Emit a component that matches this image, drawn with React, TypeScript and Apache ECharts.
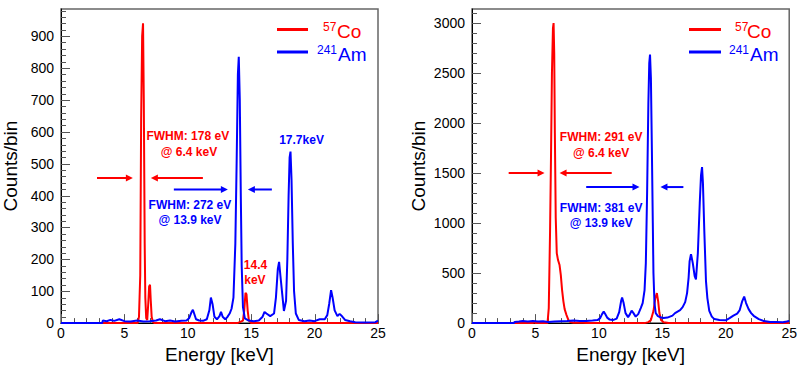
import React, { useEffect, useRef } from 'react';
import * as echarts from 'echarts';

const RED = '#ff0000';
const BLUE = '#0000ff';
const FONT = '"Liberation Sans", Arial, Helvetica, sans-serif';

// axis settings
const X_MIN = 0;
const X_MAX = 25;
const X_INTERVAL = 5;
const X_MINOR_SPLIT = 5;
const LEFT_Y_MAX = 985;
const LEFT_Y_INTERVAL = 100;
const RIGHT_Y_MAX = 3140;
const RIGHT_Y_INTERVAL = 500;
const Y_MINOR_SPLIT = 5;

const X_NAME = 'Energy [keV]';
const Y_NAME = 'Counts/bin';

// ---------- left panel spectra: [energy keV, counts] ----------
const leftCo57: number[][] = [
  [0, 0], [6.05, 0], [6.15, 20], [6.25, 150], [6.32, 640], [6.4, 900], [6.47, 940], [6.53, 700],
  [6.6, 250], [6.65, 80], [6.72, 15], [6.8, 10], [6.88, 60], [6.95, 115], [7.02, 120], [7.08, 70],
  [7.15, 20], [7.25, 3], [7.4, 0], [13.9, 0], [14.1, 3], [14.35, 8], [14.45, 40], [14.55, 95],
  [14.63, 90], [14.72, 40], [14.82, 8], [15.0, 0], [25, 0],
];

const leftAm241: number[][] = [
  [0, 0], [3.25, 0], [3.3, 8], [3.6, 6], [3.9, 10], [4.2, 7], [4.6, 12], [5.0, 6], [5.5, 5],
  [6.0, 8], [6.5, 5], [7.0, 6], [7.5, 8], [7.8, 12], [8.2, 6], [8.6, 8], [9.0, 5], [9.5, 7],
  [9.9, 8], [10.1, 15], [10.3, 35], [10.4, 42], [10.5, 30], [10.65, 12], [10.9, 8], [11.2, 7],
  [11.5, 12], [11.7, 40], [11.82, 80], [11.95, 60], [12.1, 20], [12.3, 12], [12.5, 22],
  [12.62, 35], [12.75, 20], [12.95, 12], [13.1, 18], [13.3, 30], [13.45, 45], [13.6, 80],
  [13.75, 250], [13.85, 500], [13.95, 780], [14.02, 835], [14.1, 700], [14.18, 400],
  [14.25, 180], [14.35, 50], [14.5, 15], [14.8, 8], [15.2, 6], [15.6, 8], [15.9, 20],
  [16.05, 35], [16.2, 30], [16.5, 22], [16.8, 30], [16.95, 80], [17.1, 170], [17.2, 192],
  [17.3, 150], [17.45, 90], [17.58, 38], [17.75, 70], [17.85, 200], [17.95, 400], [18.03, 520],
  [18.1, 538], [18.18, 450], [18.28, 250], [18.38, 100], [18.52, 30], [18.75, 10], [19.2, 6],
  [19.6, 8], [20.0, 6], [20.4, 12], [20.8, 12], [21.0, 25], [21.15, 60], [21.3, 103],
  [21.42, 80], [21.58, 40], [21.8, 22], [21.97, 29], [22.15, 22], [22.4, 10], [22.8, 6],
  [23.2, 3], [24, 2], [24.8, 3], [25, 8],
];

// ---------- right panel spectra ----------
const rightCo57: number[][] = [
  [0, 0], [4.8, 0], [4.9, 15], [5.0, 0], [5.95, 0], [6.05, 150], [6.15, 900], [6.22, 1600],
  [6.3, 2500], [6.38, 2950], [6.43, 3000], [6.48, 2700], [6.53, 1900], [6.6, 1050], [6.68, 700],
  [6.78, 630], [6.9, 580], [7.0, 480], [7.1, 330], [7.2, 220], [7.3, 140], [7.45, 80],
  [7.6, 30], [7.75, 10], [8.0, 3], [8.5, 5], [9.0, 2], [9.5, 0], [13.6, 0], [13.9, 10],
  [14.1, 30], [14.3, 120], [14.45, 250], [14.57, 300], [14.67, 220], [14.77, 100], [14.9, 30],
  [15.1, 8], [15.5, 0], [25, 0],
];

const rightAm241: number[][] = [
  [0, 0], [3.3, 0], [3.35, 12], [3.7, 15], [4.0, 20], [4.4, 15], [4.8, 20], [5.2, 15],
  [5.6, 18], [6.0, 12], [6.5, 15], [7.0, 18], [7.5, 20], [8.0, 25], [8.5, 22], [9.0, 20],
  [9.5, 25], [9.9, 30], [10.1, 50], [10.25, 90], [10.38, 115], [10.5, 90], [10.65, 55],
  [10.85, 35], [11.1, 30], [11.4, 45], [11.6, 110], [11.75, 220], [11.83, 255], [11.95, 200],
  [12.1, 100], [12.3, 60], [12.45, 90], [12.58, 125], [12.7, 105], [12.9, 65], [13.1, 90],
  [13.3, 150], [13.45, 200], [13.6, 330], [13.7, 600], [13.8, 1300], [13.9, 2200],
  [13.97, 2600], [14.03, 2685], [14.1, 2450], [14.18, 1700], [14.25, 1000], [14.3, 500],
  [14.38, 200], [14.48, 100], [14.65, 70], [14.9, 55], [15.1, 50], [15.4, 55], [15.8, 75],
  [16.0, 100], [16.2, 115], [16.4, 130], [16.6, 160], [16.8, 210], [16.95, 300], [17.07, 453],
  [17.15, 620], [17.26, 690], [17.4, 600], [17.55, 470], [17.65, 437], [17.8, 700],
  [17.95, 1200], [18.05, 1480], [18.13, 1560], [18.2, 1400], [18.31, 915], [18.44, 420],
  [18.55, 250], [18.7, 123], [18.9, 65], [19.1, 40], [19.5, 30], [20.0, 28], [20.3, 50],
  [20.6, 75], [20.9, 95], [21.1, 130], [21.3, 220], [21.45, 265], [21.6, 200], [21.8, 140],
  [22.0, 100], [22.2, 73], [22.6, 40], [23.0, 20], [23.5, 12], [24.0, 10], [24.5, 8],
  [24.8, 15], [25, 20],
];

// ---------- annotations (data coordinates) ----------
type Arrow = { grid: number; from: number[]; to: number[]; color: string };
const arrows: Arrow[] = [
  { grid: 0, from: [2.84, 455], to: [5.67, 455], color: RED },
  { grid: 0, from: [11.19, 455], to: [7.09, 455], color: RED },
  { grid: 0, from: [8.9, 419], to: [13.16, 419], color: BLUE },
  { grid: 0, from: [16.63, 419], to: [14.74, 419], color: BLUE },
  { grid: 1, from: [2.89, 1500], to: [5.72, 1500], color: RED },
  { grid: 1, from: [11.01, 1500], to: [6.9, 1500], color: RED },
  { grid: 1, from: [9.0, 1360], to: [13.2, 1360], color: BLUE },
  { grid: 1, from: [16.66, 1360], to: [14.85, 1360], color: BLUE },
];

type Note = { grid: number; at: number[]; text: string; color: string };
const notes: Note[] = [
  { grid: 0, at: [10.0, 586], text: 'FWHM: 178 eV', color: RED },
  { grid: 0, at: [10.09, 536], text: '@ 6.4 keV', color: RED },
  { grid: 0, at: [10.17, 370], text: 'FWHM: 272 eV', color: BLUE },
  { grid: 0, at: [10.17, 323], text: '@ 13.9 keV', color: BLUE },
  { grid: 0, at: [18.97, 574], text: '17.7keV', color: BLUE },
  { grid: 0, at: [15.34, 181], text: '14.4', color: RED },
  { grid: 0, at: [15.29, 135], text: 'keV', color: RED },
  { grid: 1, at: [10.18, 1862], text: 'FWHM: 291 eV', color: RED },
  { grid: 1, at: [10.18, 1700], text: '@ 6.4 keV', color: RED },
  { grid: 1, at: [10.18, 1155], text: 'FWHM: 381 eV', color: BLUE },
  { grid: 1, at: [10.18, 999], text: '@ 13.9 keV', color: BLUE },
];

// legend entries
const legendItems = [
  { sup: '57', name: 'Co', color: RED },
  { sup: '241', name: 'Am', color: BLUE },
];

const GRIDS = [
  { left: 61, top: 9, width: 317, height: 317 },
  { left: 472, top: 9, width: 318, height: 317 },
];
const Y_SETTINGS = [
  { max: LEFT_Y_MAX, interval: LEFT_Y_INTERVAL, nameGap: 41 },
  { max: RIGHT_Y_MAX, interval: RIGHT_Y_INTERVAL, nameGap: 44 },
];

const TICK_COLOR = '#555';

function makeXAxis(gridIndex: number) {
  return {
    type: 'value',
    gridIndex,
    min: X_MIN,
    max: X_MAX,
    interval: X_INTERVAL,
    name: X_NAME,
    nameLocation: 'middle',
    nameGap: 18,
    nameTextStyle: { fontSize: 19, color: '#000', fontFamily: FONT },
    axisLine: { show: true, lineStyle: { color: '#000', width: 1 } },
    axisTick: { show: false },
    minorTick: { show: false },
    splitLine: { show: false },
    axisLabel: { fontSize: 14, color: '#000', fontFamily: FONT, margin: 3, formatter: (v: number) => String(v) },
  };
}

function makeYAxis(gridIndex: number) {
  const s = Y_SETTINGS[gridIndex];
  return {
    type: 'value',
    gridIndex,
    min: 0,
    max: s.max,
    interval: s.interval,
    name: Y_NAME,
    nameLocation: 'middle',
    nameGap: s.nameGap,
    nameTextStyle: { fontSize: 19, color: '#000', fontFamily: FONT },
    axisLine: { show: true, lineStyle: { color: '#000', width: 1 } },
    axisTick: { show: false },
    minorTick: { show: false },
    splitLine: { show: false },
    axisLabel: {
      fontSize: 14,
      color: '#000',
      fontFamily: FONT,
      margin: 7,
      showMaxLabel: false,
      formatter: (v: number) => String(v),
    },
  };
}

function series(data: number[][], color: string, idx: number) {
  return {
    type: 'line',
    xAxisIndex: idx,
    yAxisIndex: idx,
    data,
    showSymbol: false,
    symbol: 'none',
    lineStyle: { color, width: 2 },
    itemStyle: { color },
    clip: true,
  };
}

export default function App() {
  const ref = useRef<HTMLDivElement>(null);
  useEffect(() => {
    if (!ref.current) return;
    const chart = echarts.init(ref.current, null, { renderer: 'svg' });
    chart.setOption({
      animation: false,
      backgroundColor: '#fff',
      grid: GRIDS.map((g) => ({ ...g, show: true, borderColor: '#666', borderWidth: 1.5 })),
      xAxis: [makeXAxis(0), makeXAxis(1)],
      yAxis: [makeYAxis(0), makeYAxis(1)],
      series: [
        series(leftCo57, RED, 0),
        series(leftAm241, BLUE, 0),
        series(rightCo57, RED, 1),
        series(rightAm241, BLUE, 1),
      ],
    });

    const elements: any[] = [];
    const px = (g: number, p: number[]) => chart.convertToPixel({ gridIndex: g } as any, p) as number[];

    // inward ROOT-style ticks, placed through the axes' own scales
    [0, 1].forEach((g) => {
      const xStep = X_INTERVAL / X_MINOR_SPLIT;
      for (let i = 0; X_MIN + i * xStep <= X_MAX + 1e-9; i++) {
        const v = X_MIN + i * xStep;
        const p = px(g, [v, 0]);
        const major = i % X_MINOR_SPLIT === 0;
        const x = Math.round(p[0]) + 0.5;
        elements.push({
          type: 'line',
          shape: { x1: x, y1: p[1], x2: x, y2: p[1] - (major ? 9 : 5) },
          style: { stroke: TICK_COLOR, lineWidth: 1 },
          z: 1,
        });
      }
      const s = Y_SETTINGS[g];
      const yStep = s.interval / Y_MINOR_SPLIT;
      for (let i = 0; i * yStep <= s.max + 1e-9; i++) {
        const v = i * yStep;
        const p = px(g, [X_MIN, v]);
        const major = i % Y_MINOR_SPLIT === 0;
        const y = Math.round(p[1]) + 0.5;
        elements.push({
          type: 'line',
          shape: { x1: p[0], y1: y, x2: p[0] + (major ? 9 : 5), y2: y },
          style: { stroke: TICK_COLOR, lineWidth: 1 },
          z: 1,
        });
      }
    });

    arrows.forEach((a) => {
      const f = px(a.grid, a.from);
      const t = px(a.grid, a.to);
      const dir = t[0] > f[0] ? 1 : -1;
      const hl = 7;
      const hw = 3.5;
      elements.push({
        type: 'line',
        shape: { x1: f[0], y1: f[1], x2: t[0] - dir * hl * 0.6, y2: t[1] },
        style: { stroke: a.color, lineWidth: 2 },
        z: 10,
      });
      elements.push({
        type: 'polygon',
        shape: { points: [[t[0], t[1]], [t[0] - dir * hl, t[1] - hw], [t[0] - dir * hl, t[1] + hw]] },
        style: { fill: a.color },
        z: 10,
      });
    });
    notes.forEach((n) => {
      const p = px(n.grid, n.at);
      elements.push({
        type: 'text',
        x: p[0],
        y: p[1],
        style: {
          text: n.text,
          fill: n.color,
          fontSize: 12,
          fontWeight: 'bold',
          fontFamily: FONT,
          align: 'center',
          verticalAlign: 'middle',
        },
        z: 10,
      });
    });
    const legendLayout = [
      { lineX: [277, 308], supX: [323, 317], nameX: [337, 338] },
      { lineX: [689, 721], supX: [735, 729], nameX: [747, 750] },
    ];
    const rowY = [29.5, 52];
    legendLayout.forEach((L) => {
      legendItems.forEach((item, i) => {
        elements.push({
          type: 'line',
          shape: { x1: L.lineX[0], y1: rowY[i], x2: L.lineX[1], y2: rowY[i] },
          style: { stroke: item.color, lineWidth: 3 },
          z: 10,
        });
        elements.push({
          type: 'text',
          x: L.supX[i],
          y: rowY[i] - 2.5,
          style: { text: item.sup, fill: item.color, fontSize: 12, fontFamily: FONT, align: 'left', verticalAlign: 'middle' },
          z: 10,
        });
        elements.push({
          type: 'text',
          x: L.nameX[i],
          y: rowY[i] + 2,
          style: { text: item.name, fill: item.color, fontSize: 19, fontFamily: FONT, align: 'left', verticalAlign: 'middle' },
          z: 10,
        });
      });
    });
    chart.setOption({ graphic: { elements } });
    return () => chart.dispose();
  }, []);
  return (
    <div
      ref={ref}
      style={{ position: 'absolute', left: 0, top: 0, width: 800, height: 369, background: '#fff' }}
    />
  );
}
